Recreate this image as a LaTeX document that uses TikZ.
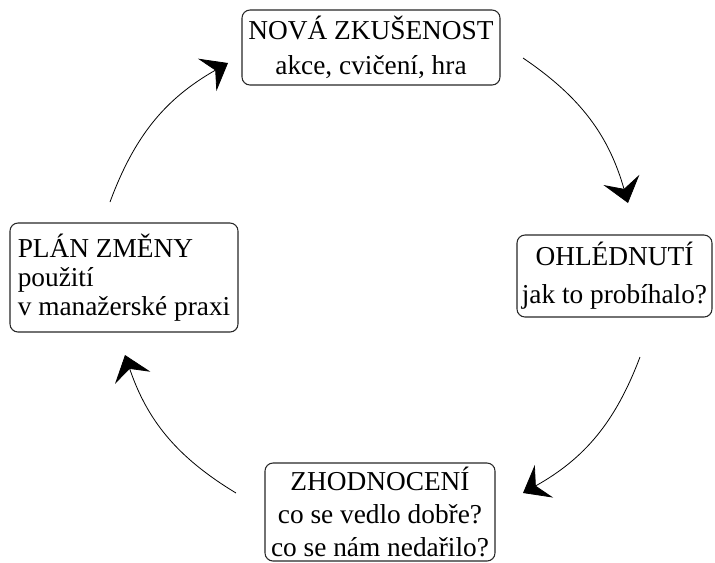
\documentclass[tikz,border=0pt]{standalone}
\usepackage{fontspec}
\setmainfont{Liberation Serif}
\usetikzlibrary{arrows.meta}

\begin{document}
\begin{tikzpicture}[x=0.75pt, y=-0.75pt,
    stage/.style={draw=black!85, line width=0.8pt, rounded corners=6pt,
        inner sep=2pt, font=\fontsize{20.5pt}{26pt}\selectfont},
    cyclearrow/.style={-{Stealth[length=18pt, width=28pt, inset=7pt]}, line width=0.6pt, bend left=20}]
        \useasboundingbox (0,0) rectangle (715,562);

        % Draw the four stages of the cycle
        \node[stage, minimum width=258*0.75pt, minimum height=75*0.75pt, align=center] (novaz) at (371,47.5)
            {NOVÁ ZKUŠENOST\\akce, cvičení, hra};
        \node[stage, minimum width=195*0.75pt, minimum height=82*0.75pt, align=center] (ohled) at (614.5,276)
            {OHLÉDNUTÍ\\[2.5pt]jak to probíhalo?};
        \node[stage, minimum width=230*0.75pt, minimum height=98*0.75pt, align=center] (zhodn) at (380,512)
            {ZHODNOCENÍ\\[-1.5pt]co se vedlo dobře?\\[-1.5pt]co se nám nedařilo?};
        \node[stage, minimum width=228*0.75pt, minimum height=109*0.75pt, align=left] (plan) at (124,277.5)
            {PLÁN ZMĚNY\\[-4pt]použití\\[-4pt]v manažerské praxi};

        % Arrow end points
        \coordinate (a1s) at (523,58);
        \coordinate (a1e) at (628,203);
        \coordinate (a2s) at (640,357);
        \coordinate (a2e) at (523,493);
        \coordinate (a3s) at (236,493);
        \coordinate (a3e) at (125,355);
        \coordinate (a4s) at (110,202);
        \coordinate (a4e) at (228,63);

        % Draw the arrows around the cycle
        \draw[cyclearrow] (a1s) to (a1e);
        \draw[cyclearrow] (a2s) to (a2e);
        \draw[cyclearrow] (a3s) to (a3e);
        \draw[cyclearrow] (a4s) to (a4e);
    \end{tikzpicture}
\end{document}
